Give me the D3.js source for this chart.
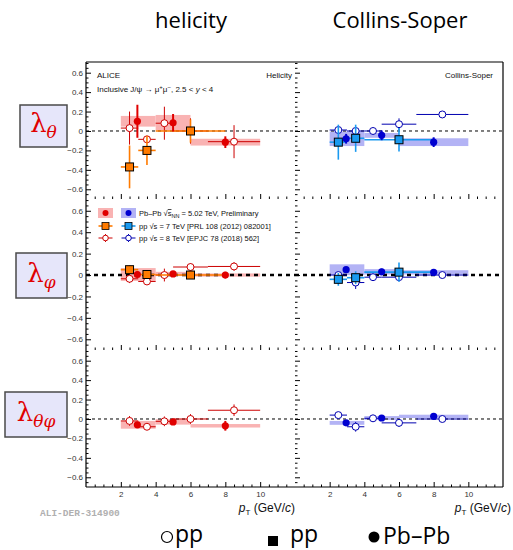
<!DOCTYPE html>
<html><head><meta charset="utf-8">
<script src="https://cdn.jsdelivr.net/npm/d3@7"></script>
<style>body{margin:0;background:#fff} svg{display:block}</style>
</head><body>
<svg id="c" width="513" height="550"></svg>
<script>
// ---------------- DATA ----------------
const frameTitles = ["helicity", "Collins-Soper"];
const frameTags = ["Helicity", "Collins-Soper"];
const xTickValues = [2, 4, 6, 8, 10];
const yTickValues = [-0.6, -0.4, -0.2, 0, 0.2, 0.4, 0.6];

// Pb-Pb sqrt(sNN)=5.02 TeV (filled circles, syst boxes)
const pbPt = [2.95, 5.0, 8.0];
const pbBins = [[2, 4], [4, 6], [6, 10]];
const pbHX_th = [0.10, 0.085, -0.115];
const pbHX_th_stat = [0.17, 0.09, 0.06];
const pbHX_th_syst = [0.055, 0.08, 0.035];
const pbHX_ph = [0.005, 0.01, 0.0];
const pbHX_ph_stat = [0.03, 0.02, 0.03];
const pbHX_ph_syst = [0.06, 0.02, 0.015];
const pbHX_tp = [-0.06, -0.03, -0.07];
const pbHX_tp_stat = [0.03, 0.03, 0.05];
const pbHX_tp_syst = [0.04, 0.028, 0.018];
const pbCS_th = [-0.08, -0.045, -0.115];
const pbCS_th_stat = [0.05, 0.05, 0.05];
const pbCS_th_syst = [0.075, 0.025, 0.04];
const pbCS_ph = [0.05, 0.03, 0.025];
const pbCS_ph_stat = [0.02, 0.03, 0.03];
const pbCS_ph_syst = [0.05, 0.025, 0.02];
const pbCS_tp = [-0.04, 0.01, 0.027];
const pbCS_tp_stat = [0.02, 0.02, 0.03];
const pbCS_tp_syst = [0.02, 0.02, 0.017];

// pp sqrt(s)=7 TeV (squares)
const pp7Pt = [2.5, 3.5, 6.0];
const pp7Bins = [[2, 3], [3, 4], [4, 8]];
const pp7HX_th = [-0.37, -0.2, 0.0];
const pp7HX_th_err = [0.22, 0.15, 0.12];
const pp7HX_ph = [0.05, 0.005, 0.0];
const pp7HX_ph_err = [0.04, 0.03, 0.03];
const pp7CS_th = [-0.115, -0.075, -0.09];
const pp7CS_th_err = [0.18, 0.14, 0.12];
const pp7CS_ph = [-0.04, -0.025, 0.027];
const pp7CS_ph_err = [0.06, 0.06, 0.09];

// pp sqrt(s)=8 TeV (open circles)
const pp8Pt = [2.5, 3.5, 4.5, 6.0, 8.5];
const pp8Bins = [[2, 3], [3, 4], [4, 5], [5, 7], [7, 10]];
const pp8HX_th = [0.03, -0.086, 0.08, 0.0, -0.11];
const pp8HX_th_err = [0.17, 0.03, 0.17, 0.13, 0.17];
const pp8HX_ph = [-0.035, -0.06, 0.0, 0.075, 0.08];
const pp8HX_ph_err = [0.04, 0.03, 0.06, 0.035, 0.04];
const pp8HX_tp = [-0.02, -0.08, -0.024, 0.0, 0.09];
const pp8HX_tp_err = [0.05, 0.02, 0.05, 0.05, 0.06];
const pp8CS_th = [0.01, 0.0, 0.0, 0.07, 0.17];
const pp8CS_th_err = [0.02, 0.03, 0.01, 0.06, 0.02];
const pp8CS_ph = [0.0, -0.07, -0.02, -0.02, 0.0];
const pp8CS_ph_err = [0.02, 0.06, 0.02, 0.04, 0.01];
const pp8CS_tp = [0.04, -0.08, 0.007, -0.04, 0.0];
const pp8CS_tp_err = [0.01, 0.05, 0.01, 0.04, 0.01];

// ---------------- TABLE ----------------
const panels = [
  [0, 0, pbHX_th, pbHX_th_stat, pbHX_th_syst, pp7HX_th, pp7HX_th_err, pp8HX_th, pp8HX_th_err],
  [0, 1, pbHX_ph, pbHX_ph_stat, pbHX_ph_syst, pp7HX_ph, pp7HX_ph_err, pp8HX_ph, pp8HX_ph_err],
  [0, 2, pbHX_tp, pbHX_tp_stat, pbHX_tp_syst, null, null, pp8HX_tp, pp8HX_tp_err],
  [1, 0, pbCS_th, pbCS_th_stat, pbCS_th_syst, pp7CS_th, pp7CS_th_err, pp8CS_th, pp8CS_th_err],
  [1, 1, pbCS_ph, pbCS_ph_stat, pbCS_ph_syst, pp7CS_ph, pp7CS_ph_err, pp8CS_ph, pp8CS_ph_err],
  [1, 2, pbCS_tp, pbCS_tp_stat, pbCS_tp_syst, null, null, pp8CS_tp, pp8CS_tp_err]
];

// ---------------- LAYOUT ----------------
const xRanges = [[86, 295], [295, 503]];
const yRanges = [[62, 199], [199, 350], [350, 487]];
const yDomain = [-0.7, 0.71];
const xScale = f => d3.scaleLinear().domain([0, 12]).range(xRanges[f]);
const yScale = r => d3.scaleLinear().domain(yDomain).range([yRanges[r][1], yRanges[r][0]]);

const col = {
  pbRed: "#e00000", pink: "#f9b3b3", pbBlue: "#0000d0", lav: "#b3b3f5",
  orange: "#ff7b00", lblue: "#1a9af0", ppRed: "#cc0000", ppBlue: "#0000b0"
};
const FONT = "'Liberation Sans', Arial, sans-serif";

const svg = d3.select("#c");

// titles
svg.append("text").attr("x", 191).attr("y", 28).attr("text-anchor", "middle")
  .attr("font-family", "'Open Sans', sans-serif").attr("font-size", 22).text(frameTitles[0]);
svg.append("text").attr("x", 400).attr("y", 28).attr("text-anchor", "middle")
  .attr("font-family", "'Open Sans', sans-serif").attr("font-size", 22).text(frameTitles[1]);

// plotting
const plot = svg.append("g");
const minorX = d3.range(1, 24).map(i => i * 0.5).filter(v => v % 2 !== 0);
const minorY = d3.range(-13, 15).map(i => +(i * 0.05).toFixed(2)).filter(v => Math.abs(Math.round(v * 100)) % 20 !== 0);

panels.forEach(([f, r, pb, pbStat, pbSyst, p7, p7e, p8, p8e]) => {
  const x = xScale(f), y = yScale(r);
  const g = plot.append("g");
  // syst boxes Pb-Pb
  g.selectAll("rect.sys").data(pb).enter().append("rect")
    .attr("x", (d, i) => x(pbBins[i][0])).attr("width", (d, i) => x(pbBins[i][1]) - x(pbBins[i][0]))
    .attr("y", (d, i) => y(d + pbSyst[i])).attr("height", (d, i) => y(d - pbSyst[i]) - y(d + pbSyst[i]))
    .attr("fill", f === 0 ? col.pink : col.lav);
  // zero line
  g.append("line").attr("x1", x(0)).attr("x2", x(12)).attr("y1", y(0)).attr("y2", y(0))
    .attr("stroke", "#000").attr("stroke-width", r === 1 ? 2.5 : 1)
    .attr("stroke-dasharray", r === 1 ? "4,4" : "3,3");
  // pp 8 TeV
  const c8 = f === 0 ? col.ppRed : col.ppBlue;
  p8.forEach((v, i) => {
    g.append("line").attr("x1", x(pp8Bins[i][0])).attr("x2", x(pp8Bins[i][1])).attr("y1", y(v)).attr("y2", y(v))
      .attr("stroke", c8).attr("stroke-width", 1);
    g.append("line").attr("x1", x(pp8Pt[i])).attr("x2", x(pp8Pt[i])).attr("y1", y(v - p8e[i])).attr("y2", y(v + p8e[i]))
      .attr("stroke", c8).attr("stroke-width", 1);
    g.append("circle").attr("cx", x(pp8Pt[i])).attr("cy", y(v)).attr("r", 3.5)
      .attr("fill", "#fff").attr("stroke", c8).attr("stroke-width", 1);
  });
  // pp 7 TeV
  if (p7) {
    const c7 = f === 0 ? col.orange : col.lblue;
    p7.forEach((v, i) => {
      g.append("line").attr("x1", x(pp7Bins[i][0])).attr("x2", x(pp7Bins[i][1])).attr("y1", y(v)).attr("y2", y(v))
        .attr("stroke", c7).attr("stroke-width", 1.6);
      g.append("line").attr("x1", x(pp7Pt[i])).attr("x2", x(pp7Pt[i])).attr("y1", y(v - p7e[i])).attr("y2", y(v + p7e[i]))
        .attr("stroke", c7).attr("stroke-width", 1.6);
      g.append("rect").attr("x", x(pp7Pt[i]) - 4).attr("y", y(v) - 4).attr("width", 8).attr("height", 8)
        .attr("fill", c7).attr("stroke", "#000").attr("stroke-width", 1);
    });
  }
  // Pb-Pb points
  const cp = f === 0 ? col.pbRed : col.pbBlue;
  pb.forEach((v, i) => {
    g.append("line").attr("x1", x(pbPt[i])).attr("x2", x(pbPt[i])).attr("y1", y(v - pbStat[i])).attr("y2", y(v + pbStat[i]))
      .attr("stroke", cp).attr("stroke-width", 2);
    g.append("circle").attr("cx", x(pbPt[i])).attr("cy", y(v)).attr("r", 3.6).attr("fill", cp);
  });

  // axes ticks
  const ya = g.append("g").attr("transform", `translate(${xRanges[f][0]},0)`);
  ya.call(d3.axisRight(y).tickValues(yTickValues).tickSize(5).tickFormat(""));
  ya.append("g").call(d3.axisRight(y).tickValues(minorY).tickSize(2.5).tickFormat(""));
  if (f === 0) {
    const yl = g.append("g").attr("transform", `translate(${xRanges[f][0]},0)`)
      .call(d3.axisLeft(y).tickValues(yTickValues).tickSize(0).tickPadding(3)
        .tickFormat(d => d === 0 ? "0" : d3.format(".1f")(d)));
    yl.selectAll("text").attr("font-family", FONT).attr("font-size", 8).attr("fill", "#333");
  }
  const xa = g.append("g").attr("transform", `translate(0,${yRanges[r][1]})`);
  xa.call(d3.axisTop(x).tickValues(xTickValues).tickSize(5).tickFormat(""));
  xa.append("g").call(d3.axisTop(x).tickValues(minorX).tickSize(2.5).tickFormat(""));
  if (r === 2) {
    const xl = g.append("g").attr("transform", `translate(0,${yRanges[r][1]})`)
      .call(d3.axisBottom(x).tickValues(xTickValues).tickSize(0).tickPadding(4));
    xl.selectAll("text").attr("font-family", FONT).attr("font-size", 8).attr("fill", "#333");
  }
});
plot.selectAll(".domain").remove();
plot.selectAll(".tick line").attr("stroke", "#000");

// frame
const fr = svg.append("g").attr("stroke", "#000").attr("stroke-width", 1.2);
fr.append("line").attr("x1", 86).attr("x2", 503).attr("y1", 62).attr("y2", 62);
fr.append("line").attr("x1", 86).attr("x2", 503).attr("y1", 487).attr("y2", 487);
fr.append("line").attr("x1", 86).attr("x2", 86).attr("y1", 62).attr("y2", 487);
fr.append("line").attr("x1", 503).attr("x2", 503).attr("y1", 62).attr("y2", 487);

// in-plot labels
const t8 = (x, y, s, anchor) => svg.append("text").attr("x", x).attr("y", y).attr("font-family", FONT)
  .attr("font-size", 8).attr("fill", "#111").attr("text-anchor", anchor || "start").text(s);
t8(97, 78, "ALICE");
const inc = svg.append("text").attr("x", 97).attr("y", 92).attr("font-family", FONT).attr("font-size", 8).attr("fill", "#111");
inc.append("tspan").text("Inclusive J/ψ → μ");
inc.append("tspan").attr("dy", -3).attr("font-size", 6).text("+");
inc.append("tspan").attr("dy", 3).text("μ");
inc.append("tspan").attr("dy", -3).attr("font-size", 6).text("−");
inc.append("tspan").attr("dy", 3).text(", 2.5 < ");
inc.append("tspan").attr("font-style", "italic").text("y");
inc.append("tspan").text(" < 4");
t8(292, 78, frameTags[0], "end");
t8(493, 78, frameTags[1], "end");

// legend (row 2 left)
const lg = svg.append("g");
lg.append("rect").attr("x", 98).attr("y", 208).attr("width", 15).attr("height", 10).attr("fill", col.pink);
lg.append("circle").attr("cx", 105.5).attr("cy", 213).attr("r", 3).attr("fill", col.pbRed);
lg.append("rect").attr("x", 121).attr("y", 208).attr("width", 15).attr("height", 10).attr("fill", col.lav);
lg.append("circle").attr("cx", 128.5).attr("cy", 213).attr("r", 3).attr("fill", col.pbBlue);
[[col.orange, 105.5], [col.lblue, 128.5]].forEach(([c, cx]) => {
  lg.append("line").attr("x1", cx - 7).attr("x2", cx + 7).attr("y1", 226).attr("y2", 226).attr("stroke", c).attr("stroke-width", 1.6);
  lg.append("rect").attr("x", cx - 3.5).attr("y", 222.5).attr("width", 7).attr("height", 7).attr("fill", c).attr("stroke", "#000").attr("stroke-width", 0.8);
});
[[col.ppRed, 105.5], [col.ppBlue, 128.5]].forEach(([c, cx]) => {
  lg.append("line").attr("x1", cx - 7).attr("x2", cx + 7).attr("y1", 238).attr("y2", 238).attr("stroke", c).attr("stroke-width", 1);
  lg.append("line").attr("x1", cx).attr("x2", cx).attr("y1", 234).attr("y2", 242).attr("stroke", c).attr("stroke-width", 1);
  lg.append("circle").attr("cx", cx).attr("cy", 238).attr("r", 2.8).attr("fill", "#fff").attr("stroke", c).attr("stroke-width", 1);
});
const lt1 = lg.append("text").attr("x", 139).attr("y", 216).attr("font-family", FONT).attr("font-size", 7.5).attr("fill", "#111");
lt1.append("tspan").text("Pb–Pb √");
lt1.append("tspan").attr("text-decoration", "overline").text("s");
lt1.append("tspan").attr("dy", 2).attr("font-size", 5.5).text("NN");
lt1.append("tspan").attr("dy", -2).text(" = 5.02 TeV, Preliminary");
lg.append("text").attr("x", 139).attr("y", 229).attr("font-family", FONT).attr("font-size", 7.5).attr("fill", "#111")
  .text("pp √s = 7 TeV [PRL 108 (2012) 082001]");
lg.append("text").attr("x", 139).attr("y", 241).attr("font-family", FONT).attr("font-size", 7.5).attr("fill", "#111")
  .text("pp √s = 8 TeV [EPJC 78 (2018) 562]");

// axis titles
[295, 511].forEach(xe => {
  const t = svg.append("text").attr("x", xe).attr("y", 512).attr("text-anchor", "end")
    .attr("font-family", FONT).attr("font-size", 12).attr("fill", "#111");
  t.append("tspan").attr("font-style", "italic").text("p");
  t.append("tspan").attr("dy", 3).attr("font-size", 8).text("T");
  t.append("tspan").attr("dy", -3).text(" (GeV/");
  t.append("tspan").attr("font-style", "italic").text("c");
  t.append("tspan").text(")");
});
svg.append("text").attr("x", 40).attr("y", 516).attr("font-family", "'Liberation Mono', 'DejaVu Sans Mono', monospace")
  .attr("font-weight", "bold").attr("font-size", 9.5).attr("fill", "#b0b0b0").text("ALI-DER-314900");

// lambda boxes
const lamBoxes = [
  { x: 20, y: 105, w: 47, h: 42, sub: "θ" },
  { x: 16, y: 253, w: 51, h: 45, sub: "φ" },
  { x: 5, y: 392, w: 62, h: 45, sub: "θφ" }
];
lamBoxes.forEach(b => {
  svg.append("rect").attr("x", b.x).attr("y", b.y).attr("width", b.w).attr("height", b.h)
    .attr("fill", "#e6e6fa").attr("stroke", "#4a4a4a").attr("stroke-width", 1.5);
  const t = svg.append("text").attr("x", b.x + b.w / 2).attr("y", b.y + b.h / 2 + 6).attr("text-anchor", "middle")
    .attr("font-family", "'DejaVu Serif', serif").attr("fill", "#e00000");
  t.append("tspan").attr("font-size", 26).text("λ");
  t.append("tspan").attr("font-size", 17).attr("font-style", "italic").attr("dy", 6).text(b.sub);
});

// bottom legend
const LF = "'Open Sans', sans-serif";
svg.append("circle").attr("cx", 167).attr("cy", 537).attr("r", 5.5).attr("fill", "none").attr("stroke", "#000").attr("stroke-width", 1.2);
svg.append("text").attr("x", 175).attr("y", 542).attr("font-family", LF).attr("font-size", 23).text("pp");
svg.append("rect").attr("x", 268).attr("y", 536).attr("width", 10).attr("height", 10).attr("fill", "#000");
svg.append("text").attr("x", 290).attr("y", 542).attr("font-family", LF).attr("font-size", 23).text("pp");
svg.append("circle").attr("cx", 374).attr("cy", 537).attr("r", 5.5).attr("fill", "#000");
svg.append("text").attr("x", 383).attr("y", 544).attr("font-family", LF).attr("font-size", 23).text("Pb–Pb");
</script>
</body></html>
